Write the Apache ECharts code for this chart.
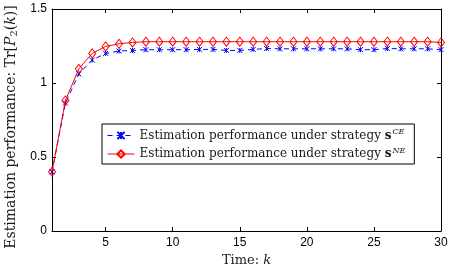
<!DOCTYPE html>
<html><head><meta charset="utf-8">
<script src="https://cdn.jsdelivr.net/npm/echarts@6/dist/echarts.min.js"></script>
<style>html,body{margin:0;padding:0;background:#fff}#c{width:458px;height:268px}</style>
</head><body><div id="c"></div>
<script>
const timeSteps = [1,2,3,4,5,6,7,8,9,10,11,12,13,14,15,16,17,18,19,20,21,22,23,24,25,26,27,28,29,30];
const perfCE = [0.40,0.864,1.062,1.155,1.200,1.216,1.220,1.225,1.225,1.225,1.225,1.227,1.227,1.220,1.220,1.227,1.233,1.231,1.231,1.231,1.231,1.231,1.231,1.225,1.225,1.233,1.231,1.231,1.231,1.225];
const perfNE = [0.40,0.882,1.096,1.200,1.247,1.265,1.274,1.279,1.279,1.279,1.279,1.279,1.279,1.279,1.279,1.279,1.279,1.279,1.279,1.279,1.279,1.279,1.279,1.279,1.279,1.279,1.279,1.279,1.279,1.274];
const xTicks = [5,10,15,20,25,30];
const yTicks = [0,0.5,1,1.5];
const seriesNames = ['ce','ne'];

const chart = echarts.init(document.getElementById('c'));
const serif = 'DejaVu Serif';
const sans = 'Liberation Sans';
const tc = '#1a1a1a';
const richLegend = {
  t:{fontFamily:serif,fontSize:12,color:tc},
  b:{fontFamily:serif,fontSize:12,fontWeight:'bold',color:tc},
  sup:{fontFamily:serif,fontSize:8,fontStyle:'italic',color:tc,verticalAlign:'top',padding:[0,0,7,1]}
};
const asterisk = 'path://M0,0L10,10M10,0L0,10M5,0L5,10';
const axisCommon = {
  type:'value', splitLine:{show:false},
  axisLine:{show:true,onZero:false,lineStyle:{color:'#000',width:1}},
  axisTick:{show:true,inside:true,length:4,lineStyle:{color:'#000'}},
};
chart.setOption({
  animation:false,
  backgroundColor:'#fff',
  grid:{left:52,right:17,top:9,bottom:37,containLabel:false,outerBoundsMode:'none'},
  legend:{
    orient:'vertical', left:102, top:124, itemGap:5,
    itemWidth:27, itemHeight:9,
    borderColor:'#000', borderWidth:1, borderRadius:0, backgroundColor:'#fff',
    padding:[4,9,4,5],
    lineStyle:{width:1},
    data:seriesNames,
    formatter:function(n){
      return n==='ce' ? '{t|Estimation performance under strategy }{b|s}{sup|CE}'
                      : '{t|Estimation performance under strategy }{b|s}{sup|NE}';
    },
    textStyle:{rich:richLegend}
  },
  xAxis:[
    Object.assign({}, axisCommon, {min:1,max:30,position:'bottom',
      axisTick:{show:true,inside:true,length:4,customValues:xTicks,lineStyle:{color:'#000'}},
      axisLabel:{customValues:xTicks,fontFamily:sans,fontSize:12,color:'#000',margin:6},
      name:'{t|Time: }{i|k}', nameLocation:'middle', nameGap:13,
      nameTextStyle:{rich:{t:{fontFamily:serif,fontSize:13,color:tc},i:{fontFamily:serif,fontSize:13,fontStyle:'italic',color:tc}}}
    }),
    Object.assign({}, axisCommon, {min:1,max:30,position:'top',
      axisTick:{show:true,inside:true,length:4,customValues:xTicks,lineStyle:{color:'#000'}},
      axisLabel:{show:false}})
  ],
  yAxis:[
    Object.assign({}, axisCommon, {min:0,max:1.5,interval:0.5,position:'left',
      axisLabel:{fontFamily:sans,fontSize:12,color:'#000',margin:5,formatter:function(v){return String(v);}},
      name:'{t|Estimation performance: Tr}{t|[}{i|P}{s|2}{t|(}{i|k}{t|)]}', nameLocation:'middle', nameGap:21, nameRotate:90,
      nameTextStyle:{padding:[0,14,0,0],rich:{
        t:{fontFamily:serif,fontSize:14,color:tc},
        i:{fontFamily:serif,fontSize:14,fontStyle:'italic',color:tc},
        s:{fontFamily:serif,fontSize:10,color:tc,verticalAlign:'bottom',padding:[6,0,0,0]}
      }}
    }),
    Object.assign({}, axisCommon, {min:0,max:1.5,interval:0.5,position:'right',axisLabel:{show:false}})
  ],
  series:[
    {name:'ce',type:'line',xAxisIndex:0,yAxisIndex:0,
     data:timeSteps.map((k,i)=>[k,perfCE[i]]),
     symbol:asterisk,symbolSize:5,
     lineStyle:{color:'#0000ff',width:1,type:[5,4]},
     itemStyle:{color:'#0000ff',borderColor:'#0000ff',borderWidth:1},
     z:2},
    {name:'ne',type:'line',xAxisIndex:0,yAxisIndex:0,
     data:timeSteps.map((k,i)=>[k,perfNE[i]]),
     symbol:'diamond',symbolSize:[7,9],
     lineStyle:{color:'#ff0000',width:1},
     itemStyle:{color:'rgba(255,255,255,0)',borderColor:'#ff0000',borderWidth:1},
     z:3}
  ]
});
</script></body></html>
